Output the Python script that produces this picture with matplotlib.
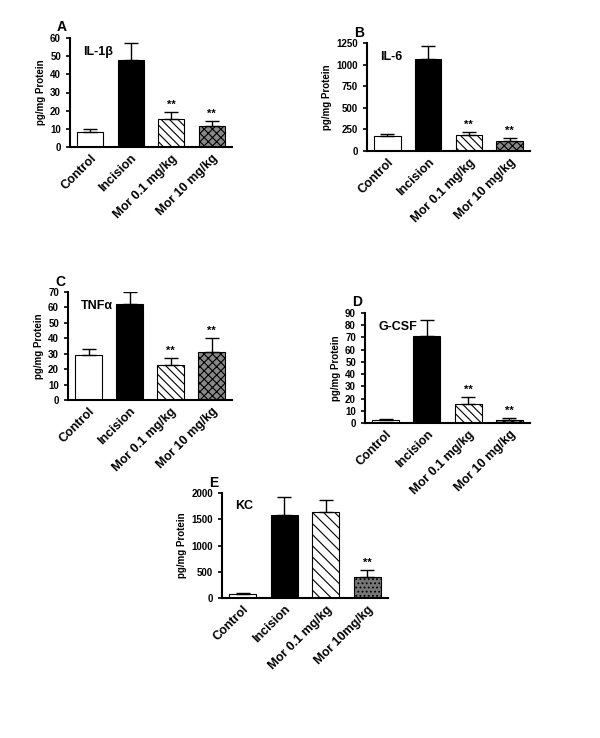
import matplotlib
matplotlib.use("Agg")
import matplotlib.pyplot as plt

cats = ["Control", "Incision", "Mor 0.1 mg/kg", "Mor 10 mg/kg"]
cats_e = ["Control", "Incision", "Mor 0.1 mg/kg", "Mor 10mg/kg"]
il1b = [8, 48, 15.5, 11.5]; il1b_err = [2, 9, 3.5, 3]
il6 = [175, 1060, 190, 110]; il6_err = [25, 160, 35, 40]
tnfa = [29, 62, 23, 31]; tnfa_err = [4, 8, 4, 9]
gcsf = [2.5, 71, 15.5, 2.5]; gcsf_err = [1, 13, 6, 1.5]
kc = [80, 1590, 1630, 400]; kc_err = [20, 330, 230, 130]

W, H = 600, 738
fig = plt.figure(figsize=(6, 7.38), dpi=100)
plt.rcParams["font.family"] = "Liberation Sans"
plt.rcParams["hatch.linewidth"] = 0.8

def panel(px, letter, title, vals, errs, ymax, step, sig, labels, e=False):
    x0, y0, x1, y1 = px
    ax = fig.add_axes([x0 / W, 1 - y1 / H, (x1 - x0) / W, (y1 - y0) / H])
    styles = [dict(color="white", hatch=None), dict(color="black", hatch=None),
              dict(color="white", hatch="\\\\\\\\"),
              dict(color="#888888" if not e else "#777777", hatch="xxxx" if not e else "....")]
    if e:
        styles[2] = dict(color="white", hatch="\\\\\\")
    for i, (v, er) in enumerate(zip(vals, errs)):
        ax.bar(i, v, width=0.65, color=styles[i]["color"], edgecolor="black",
               hatch=styles[i]["hatch"], linewidth=0.8, zorder=2)
        ax.errorbar(i, v, yerr=[[0], [er]], color="black", capsize=5, capthick=1, lw=1, zorder=3)
        if i in sig:
            ax.text(i, v + er + ymax * 0.02, "**", ha="center", va="bottom", fontsize=8, fontweight="bold")
    ax.set_xlim(-0.5, 3.5)
    ax.set_ylim(0, ymax)
    ax.set_yticks(range(0, int(ymax) + 1, step))
    ax.set_xticks(range(4))
    ax.set_xticklabels(labels, rotation=45, ha="right", rotation_mode="anchor", fontsize=9, fontweight="bold")
    ax.tick_params(axis="y", labelsize=7, width=1.2, length=3)
    ax.tick_params(axis="x", length=0, pad=4)
    for t in ax.get_yticklabels():
        t.set_fontweight("bold")
    for s in ["top", "right"]:
        ax.spines[s].set_visible(False)
    ax.spines["left"].set_linewidth(1.5)
    ax.spines["bottom"].set_linewidth(1.5)
    ax.set_ylabel("pg/mg Protein", fontsize=7, fontweight="bold", labelpad=3)
    ax.text(-0.08, 1.06, letter, transform=ax.transAxes, fontsize=10, fontweight="bold")
    ax.text(0.08, 0.93, title, transform=ax.transAxes, fontsize=9, fontweight="bold", va="top")
    return ax

panel((70, 38, 232, 147), "A", "IL-1β", il1b, il1b_err, 60, 10, [2, 3], cats)
panel((367, 43, 530, 151), "B", "IL-6", il6, il6_err, 1250, 250, [2, 3], cats)
panel((68, 292, 232, 400), "C", "TNFα", tnfa, tnfa_err, 70, 10, [2, 3], cats)
panel((365, 313, 530, 423), "D", "G-CSF", gcsf, gcsf_err, 90, 10, [2, 3], cats)
panel((222, 493, 388, 598), "E", "KC", kc, kc_err, 2000, 500, [3], cats_e, e=True)

fig.savefig("out.png", dpi=100, facecolor="white")
